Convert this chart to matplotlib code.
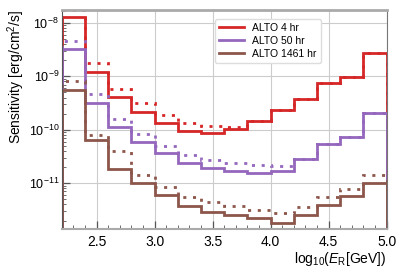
import matplotlib
matplotlib.use("Agg")
import matplotlib.pyplot as plt
from matplotlib.ticker import LogLocator, MultipleLocator, NullFormatter
import numpy as np

plt.rcParams['font.family'] = ['Liberation Sans', 'DejaVu Sans']
plt.rcParams['mathtext.fontset'] = 'custom'
plt.rcParams['mathtext.rm'] = 'Liberation Sans'
plt.rcParams['mathtext.it'] = 'Liberation Sans:italic'

# bin edges in log10(E/GeV)
edges = np.arange(2.2, 5.01, 0.2)

# log10 of sensitivity
alto4_solid = [-7.90, -8.916, -9.383, -9.675, -9.869, -10.024, -10.067,
               -9.98, -9.84, -9.64, -9.42, -9.133, -9.012, -8.561]
alto4_dot = [-7.77, -8.748, -9.234, -9.51, -9.725, -9.88, -9.93,
             -9.944, -9.84, -9.64, -9.42, -9.133, -9.012, -8.561]
alto50_solid = [-8.49, -9.495, -9.949, -10.236, -10.44, -10.62, -10.72,
                -10.78, -10.81, -10.77, -10.55, -10.26, -10.13, -9.69]
alto50_dot = [-8.336, -9.333, -9.794, -10.086, -10.30, -10.479, -10.57,
              -10.62, -10.66, -10.68, -10.55, -10.26, -10.13, -9.69]
alto1461_solid = [-9.258, -10.193, -10.729, -11.002, -11.23, -11.42, -11.53,
                  -11.594, -11.66, -11.74, -11.594, -11.40, -11.24, -11.002]
alto1461_dot = [-9.084, -10.093, -10.398, -10.84, -11.065, -11.252, -11.35,
                -11.42, -11.50, -11.56, -11.45, -11.25, -11.11, -10.85]

labels = ['ALTO 4 hr', 'ALTO 50 hr', 'ALTO 1461 hr']
colors = ['#d62728', '#9467bd', '#8c564b']
solids = [alto4_solid, alto50_solid, alto1461_solid]
dots = [alto4_dot, alto50_dot, alto1461_dot]

fig = plt.figure(figsize=(4.07, 2.71), dpi=100)
ax = fig.add_axes([0.152, 0.155, 0.798, 0.808])

base = 1e-13
for s, d, c, lab in zip(solids, dots, colors, labels):
    ax.stairs(10 ** np.array(d), edges, baseline=base, color=c, lw=2,
              linestyle=(0, (1.1, 2.4)))
    ax.stairs(10 ** np.array(s), edges, baseline=base, color=c, lw=2,
              label=lab)

ax.set_yscale('log')
ax.set_xlim(2.2, 5.0)
ax.set_ylim(1.39e-12, 1.73e-8)
ax.xaxis.set_major_locator(MultipleLocator(0.5))
ax.xaxis.set_minor_locator(MultipleLocator(0.1))
ax.yaxis.set_major_locator(LogLocator(base=10, numticks=10))
ax.yaxis.set_minor_locator(LogLocator(base=10, subs=np.arange(2, 10), numticks=20))
ax.yaxis.set_minor_formatter(NullFormatter())
ax.grid(True, which='major', color='#cccccc', lw=0.8)
ax.set_axisbelow(True)

ax.tick_params(which='both', direction='in', colors='#555555',
               labelcolor='black')
ax.tick_params(axis='x', labelsize=10, pad=4)
ax.tick_params(axis='y', labelsize=9, pad=2)
ax.tick_params(which='major', length=6, width=0.9)
ax.tick_params(which='minor', length=3, width=0.6)

ax.spines['left'].set_color('#555555')
ax.spines['bottom'].set_color('#aaaaaa')
ax.spines['bottom'].set_linewidth(1.5)
ax.spines['top'].set_color('#aaaaaa')
ax.spines['top'].set_linewidth(2)
ax.spines['right'].set_color('#777777')

ax.set_ylabel('Sensitivity [erg/cm$^2$/s]', fontsize=10, labelpad=1, loc='top')
ax.set_xlabel(r'$\mathregular{log_{10}(}E_\mathregular{R}\mathregular{[GeV])}$',
              fontsize=10, loc='right', labelpad=1)

ax.legend(loc='upper left', bbox_to_anchor=(0.455, 0.985), fontsize=7.5,
          frameon=True, framealpha=1, edgecolor='#dddddd', handlelength=2.4,
          borderpad=0.4, labelspacing=0.3, handletextpad=0.8)

fig.savefig('out.png', dpi=100)
